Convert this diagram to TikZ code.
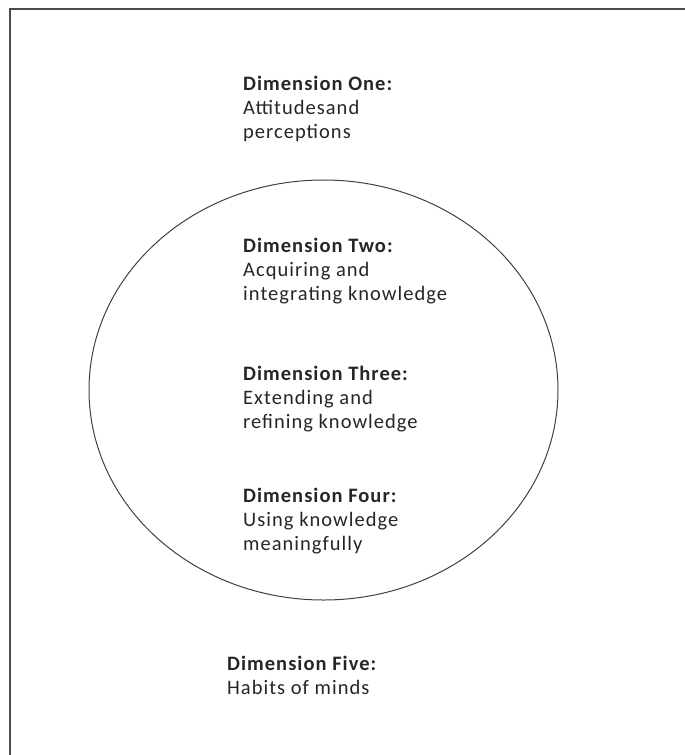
\documentclass[tikz,border=0pt]{standalone}
\usepackage{fontspec}
\setmainfont[LetterSpace=5]{Carlito}
\begin{document}
\begin{tikzpicture}[x=1pt,y=-1pt,
  lbl/.style={anchor=north west,inner sep=0pt,align=left,font=\fontsize{20.5}{24}\selectfont,text=black!85}]
\useasboundingbox (0,0) rectangle (685,755);
\begin{scope}
\clip (0,0) rectangle (685,755);
\draw[line width=1.6pt,black!70] (10,9) rectangle (720,800);
\end{scope}
\draw[line width=1pt,black!75] (323.5,390) ellipse [x radius=234.5,y radius=210];
\node[lbl] (d1) at (243,76) {\textbf{Dimension One:}\\Attitudesand\\perceptions};
\node[lbl] (d2) at (243,238) {\textbf{Dimension Two:}\\Acquiring and\\integrating knowledge};
\node[lbl] (d3) at (243,366) {\textbf{Dimension Three:}\\Extending and\\refining knowledge};
\node[lbl] (d4) at (243,488) {\textbf{Dimension Four:}\\Using knowledge\\meaningfully};
\node[lbl] (d5) at (227,656) {\textbf{Dimension Five:}\\Habits of minds};
\end{tikzpicture}
\end{document}
